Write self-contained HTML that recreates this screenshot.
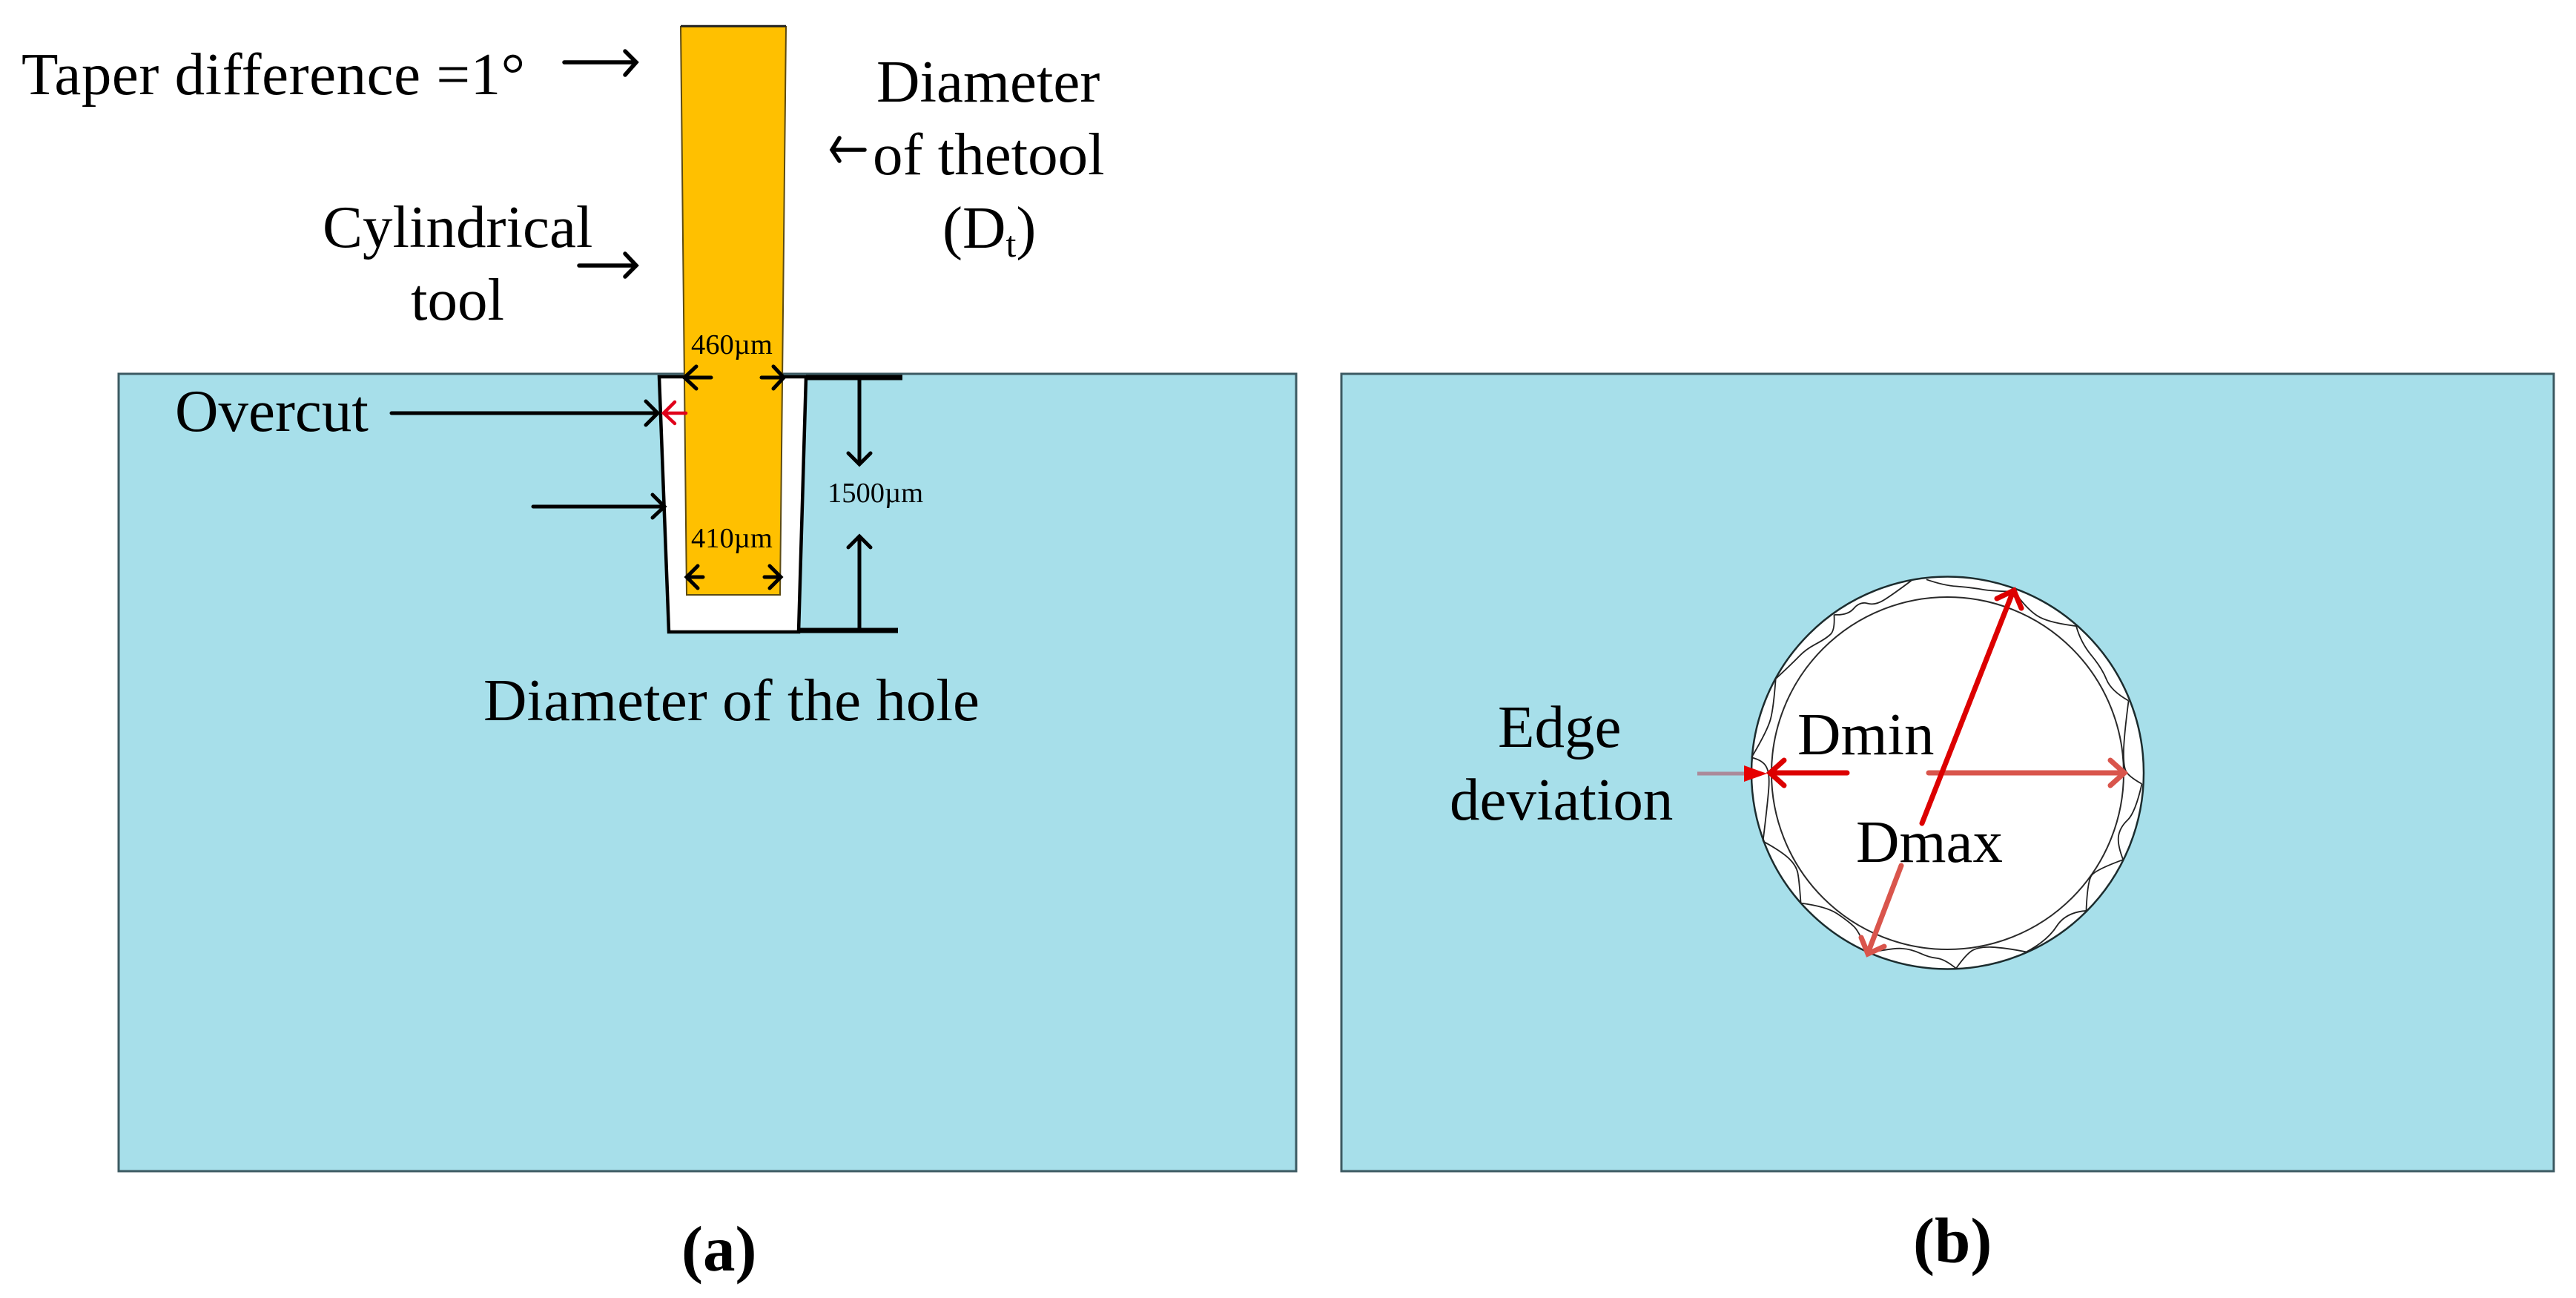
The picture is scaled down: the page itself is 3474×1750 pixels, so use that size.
<!DOCTYPE html>
<html>
<head>
<meta charset="utf-8">
<style>
html,body{margin:0;padding:0;background:#fff;overflow:hidden;width:3474px;height:1750px;}
svg{display:block;}
text{font-family:"Liberation Serif","Times New Roman",serif;fill:#000;font-variant-ligatures:none;}
.l{font-size:81px;}
.s{font-size:38.5px;}
.b{font-size:87px;font-weight:bold;}
</style>
</head>
<body>
<svg xmlns="http://www.w3.org/2000/svg" width="3474" height="1750" viewBox="0 0 3474 1750">
<rect width="3474" height="1750" fill="#fff"/>

<!-- panels -->
<rect x="160" y="504" width="1588" height="1075" fill="#a7dfea" stroke="#3c5a62" stroke-width="3"/>
<rect x="1809" y="504" width="1635" height="1075" fill="#a7dfea" stroke="#3c5a62" stroke-width="3"/>

<!-- hole -->
<polygon points="889,508 902,852 1077,852 1087,508" fill="#fff" stroke="#000" stroke-width="4.5" stroke-linejoin="miter"/>
<line x1="1087" y1="509" x2="1217" y2="509" stroke="#000" stroke-width="7"/>
<line x1="1075" y1="850" x2="1211" y2="850" stroke="#000" stroke-width="7"/>

<!-- tool -->
<polygon points="918,36 1060,36 1052,802 926,802" fill="#ffc000" stroke="#5c4a12" stroke-width="2"/>
<line x1="918" y1="35" x2="1060" y2="35" stroke="#222" stroke-width="2.5"/>

<!-- black arrows -->
<g fill="none" stroke="#000" stroke-width="5" stroke-linecap="round" stroke-linejoin="miter">
  <path d="M761 84H858M843 69L858 84L843 101" stroke-width="5.5"/>
  <path d="M781 358H858M843 342L858 358L843 373" stroke-width="5.5"/>
  <path d="M1166 202H1123M1132 186L1122 202L1132 217" stroke-width="5.5"/>
  <path d="M959 509H923M939 494L923 509L939 524"/>
  <path d="M1027 509H1057M1043 494L1057 509L1043 524"/>
  <path d="M948 778H926M941 763L926 778L941 793"/>
  <path d="M1031 778H1053M1038 763L1053 778L1038 793"/>
  <path d="M528 557H887M871 541L887 557L871 573"/>
  <path d="M719 683H896M880 667L896 683L880 698"/>
  <path d="M1159 509V626M1144 611L1159 626L1174 611"/>
  <path d="M1159 850V723M1144 738L1159 723L1174 738"/>
</g>
<path d="M925 557H896M910 542L895 557L910 571" fill="none" stroke="#e0001b" stroke-width="4.5" stroke-linecap="round"/>

<!-- left text -->
<text class="l" x="29" y="127" textLength="679" lengthAdjust="spacing">Taper difference =1°</text>
<text class="l" x="1182" y="137">Diameter</text>
<text class="l" x="1177" y="235">of thetool</text>
<text class="l" x="1271" y="334">(D<tspan font-size="50" dy="12">t</tspan><tspan dy="-12">)</tspan></text>
<text class="l" x="435" y="333">Cylindrical</text>
<text class="l" x="617" y="431" text-anchor="middle">tool</text>
<text class="l" x="236" y="581">Overcut</text>
<text class="l" x="652" y="971" textLength="669" lengthAdjust="spacing">Diameter of the hole</text>
<text class="s" x="932" y="477">460µm</text>
<text class="s" x="932" y="738">410µm</text>
<text class="s" x="1116" y="677" fill="#04121c">1500µm</text>

<!-- circles -->
<circle cx="2626.5" cy="1042" r="264.5" fill="#fff" stroke="#1c2c2e" stroke-width="2.5"/>
<circle cx="2626.5" cy="1042.5" r="237.5" fill="#fff" stroke="#2a2a2a" stroke-width="2"/>

<!-- wavy edge -->
<g transform="translate(2300 740) scale(0.40816 0.38270)" fill="none" stroke="#222">
<path vector-effect="non-scaling-stroke" stroke-width="1.8" d="M680 112Q620 160 590 180Q560 200 535 192Q510 185 490 210Q470 235 425 232"/>
<path vector-effect="non-scaling-stroke" stroke-width="1.8" d="M425 232Q428 285 414 300Q400 315 365 335Q330 355 310 378Q290 400 232 458"/>
<path vector-effect="non-scaling-stroke" stroke-width="1.8" d="M232 458Q225 560 215 600Q205 640 152 735"/>
<path vector-effect="non-scaling-stroke" stroke-width="1.8" d="M152 735Q190 745 201 768Q213 790 209 845Q205 900 190 1030"/>
<path vector-effect="non-scaling-stroke" stroke-width="1.8" d="M190 1030Q250 1065 275 1090Q300 1115 305 1142Q310 1170 315 1248"/>
<path vector-effect="non-scaling-stroke" stroke-width="1.8" d="M315 1248Q400 1260 435 1285Q470 1310 490 1330Q510 1350 535 1425"/>
<path vector-effect="non-scaling-stroke" stroke-width="1.8" d="M535 1425Q620 1405 650 1408Q680 1410 710 1425Q740 1440 765 1442Q790 1445 828 1478"/>
<path vector-effect="non-scaling-stroke" stroke-width="1.8" d="M828 1478Q860 1430 880 1416Q900 1402 945 1403Q990 1405 1060 1420"/>
<path vector-effect="non-scaling-stroke" stroke-width="1.8" d="M1060 1420Q1130 1380 1160 1330Q1190 1280 1258 1275"/>
<path vector-effect="non-scaling-stroke" stroke-width="1.8" d="M1258 1275Q1262 1170 1276 1150Q1290 1130 1380 1095"/>
<path vector-effect="non-scaling-stroke" stroke-width="1.8" d="M1380 1095Q1360 1040 1365 1010Q1370 980 1395 955Q1420 930 1442 828"/>
<path vector-effect="non-scaling-stroke" stroke-width="1.8" d="M1442 828Q1395 800 1388 780Q1380 760 1382 700Q1385 640 1398 535"/>
<path vector-effect="non-scaling-stroke" stroke-width="1.8" d="M1398 535Q1340 500 1325 460Q1310 420 1275 375Q1240 330 1225 272"/>
<path vector-effect="non-scaling-stroke" stroke-width="1.8" d="M1225 272Q1130 260 1095 235Q1060 210 1020 150"/>
<path vector-effect="non-scaling-stroke" stroke-width="1.8" d="M1020 150Q950 150 910 142Q870 135 830 132Q790 130 730 108"/>
</g>

<!-- circle text -->
<text class="l" x="2424" y="1017">Dmin</text>
<text class="l" x="2503" y="1162">Dmax</text>
<text class="l" x="2020" y="1007">Edge</text>
<text class="l" x="1955" y="1105">deviation</text>

<!-- red arrows -->
<line x1="2289" y1="1043" x2="2356" y2="1043" stroke="#ab8a9a" stroke-width="5"/>
<polygon points="2352,1032 2383,1043 2352,1054" fill="#e60000"/>
<g fill="none" stroke-width="7" stroke-linecap="round" stroke-linejoin="miter">
  <path d="M2491 1042H2388M2406 1025L2387 1042L2406 1059" stroke="#dc0000"/>
  <path d="M2601 1042H2864M2846 1025L2865 1042L2846 1059" stroke="#d9554c"/>
  <path d="M2564 1167L2519 1285M2510 1264L2519 1286L2541 1276" stroke="#d9554c"/>
  <path d="M2592 1110L2715 797M2693 807L2716 796L2726 820" stroke="#dc0000"/>
</g>

<!-- captions -->
<text class="b" x="919" y="1713">(a)</text>
<text class="b" x="2580" y="1702">(b)</text>
</svg>
</body>
</html>
